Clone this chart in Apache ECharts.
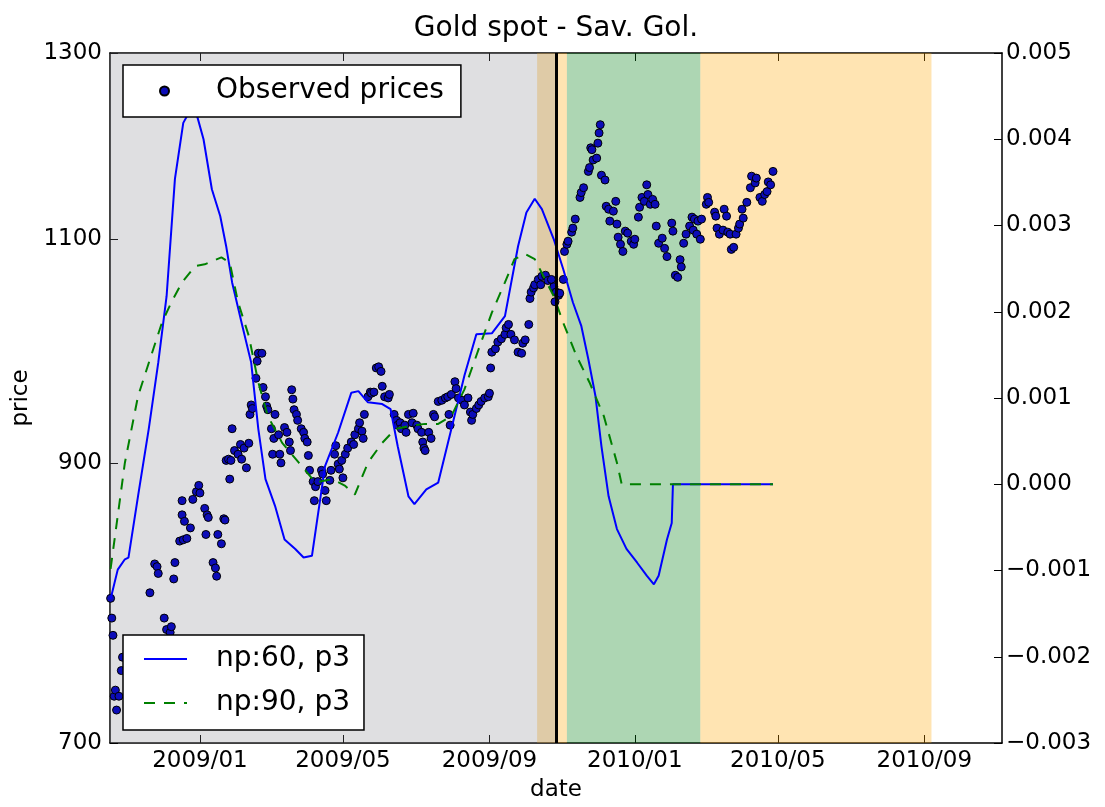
<!DOCTYPE html>
<html>
<head>
<meta charset="utf-8">
<script src="https://cdn.jsdelivr.net/npm/echarts@6/dist/echarts.min.js"></script>
<style>
html,body{margin:0;padding:0;background:#fff;}
#chart{width:1105px;height:807px;}
</style>
</head>
<body>
<div id="chart"></div>
<script>
// Dates are stored as days counted from 2009-01-01 (UTC).
const baseDate = '2009-01-01';
const xRange = [-75.5, 673.2];
const xTickDates = ['2009-01-01', '2009-05-01', '2009-09-01', '2010-01-01', '2010-05-01', '2010-09-01'];
const priceTicks = [700, 900, 1100, 1300];
const priceRange = [700, 1300];
const derivRange = [-0.003, 0.005];
const derivStep = 0.001;

// shaded periods [startDay, endDay]
const spanOrangeShort = [283, 308];
const spanGreen = [308, 420];
const spanOrangeLong = [420, 614];
const spanGray = [-75.5, 299];
const nowDay = 299;

// observed gold prices [day, price]
const observedPrices = [
[-75,797],[-74,783],[-73,771],[-72,730],[-71,734],[-70,721],[-68,730],[-66,747],[-65,756],
[-42,801],[-38,822],[-36,820],[-35,815],[-30,783],[-28,775],[-25,773],[-24,777],
[-22,811],[-21,823],[-17,839],[-15,870],[-15,859],[-14,840],[-13,854],[-11,841],[-8,849],
[-6,871],[-3,877],[-1,882],[0,876],[4,864],[5,844],[6,859],[7,857],
[11,823],[13,819],[14,813],[15,844],[18,837],[20,856],[21,855],
[22,902],[24,903],[25,887],[26,902],[27,928],
[29,910],[32,907],[34,915],[35,903],[37,912],[39,896],[41,916],
[42,940],[43,948],[44,945],
[47,971],[48,986],[49,993],[52,993],
[53,963],[55,955],[56,947],[57,944],
[60,928],[61,907],[62,920],[63,940],[66,923],[67,907],[68,900],
[71,929],[73,925],[75,917],[76,910],[77,961],[78,953],
[79,944],[81,940],[82,935],
[85,928],[87,925],[88,920],[90,917],[91,906],[92,894],
[95,885],[96,870],[97,881],[99,885],[102,894],[103,891],[105,878],[106,870],
[109,886],[110,894],[113,907],[114,914],
[116,899],[117,895],[119,902],[120,888],
[122,907],[124,912],[127,917],[129,915],[130,923],
[133,928],[134,933],[136,926],[137,920],[138,940],
[141,955],[143,959],[144,958],[146,959],
[148,980],[150,981],[152,977],[153,964],
[155,955],[158,954],[159,957],
[163,940],[165,935],[166,931],[168,933],[169,928],
[172,931],[173,925],[175,940],[178,933],[179,941],
[182,931],[183,928],[186,925],[187,917],[188,912],[189,910],
[192,925],[194,920],[196,940],[197,938],
[200,951],[203,952],[206,954],[208,955],[209,940],[210,931],[211,957],[214,968],[215,962],
[217,954],[220,952],[222,948],
[225,954],[227,942],[228,935],[229,940],[232,945],[234,948],[236,951],[239,954],[242,955],[243,958],
[244,980],[245,994],[248,997],[250,1003],[253,1006],[256,1010],[257,1016],[259,1019],
[261,1010],[264,1005],[267,994],[270,993],[271,1002],[273,1005],[276,1019],
[277,1043],[278,1049],[280,1053],[281,1056],[284,1061],[286,1056],[287,1064],
[290,1065],[292,1060],[295,1061],[297,1054],[298,1040],[299,1049],[301,1046],[302,1048],[305,1061],
[306,1088],[308,1095],[309,1098],[312,1107],[313,1111],[315,1120],
[319,1142],[320,1147],[322,1152],[326,1169],[327,1173],[328,1194],[329,1192],[330,1181],[333,1183],
[334,1199],[335,1210],[336,1219],[337,1165],[340,1160],
[341,1133],[343,1130],[344,1118],[347,1128],[349,1138],[350,1115],
[351,1102],[353,1095],[355,1088],[357,1108],[359,1106],[362,1098],[364,1095],[365,1100],
[368,1122],[369,1132],[371,1142],[373,1138],[375,1155],[376,1145],[378,1135],[380,1140],[382,1135],
[383,1113],[385,1096],[388,1101],[390,1091],[392,1083],
[396,1116],[397,1108],[399,1065],[401,1063],[403,1080],[404,1073],
[406,1096],[408,1105],[411,1113],[413,1122],[414,1109],[415,1120],[417,1105],[418,1118],[420,1100],[421,1120],
[425,1135],[426,1142],[427,1137],[432,1127],[433,1123],
[434,1111],[436,1105],[439,1109],[440,1130],[442,1123],[443,1107],
[445,1105],[446,1090],[448,1092],[450,1105],[452,1111],[453,1115],[455,1130],[456,1121],[459,1137],
[462,1152],[463,1164],[466,1157],[467,1162],[470,1142],[472,1138],[474,1145],[476,1148],[477,1158],[479,1155],[481,1169]
];

// Savitzky-Golay derived curves [day, value]
const np60 = [
[-75,-0.00133],[-69,-0.00099],[-63,-0.00087],[-60,-0.00085],[-52,-0.00014],[-43,0.00064],[-35,0.00141],
[-28,0.00218],[-21,0.00354],[-14,0.00419],[-10,0.00429],[-3,0.00430],[3,0.00400],[10,0.00342],
[17,0.00311],[22,0.00276],[27,0.00234],[35,0.00187],[43,0.00141],[49,0.00064],[55,0.00006],
[63,-0.00025],[71,-0.00064],[80,-0.00075],[87,-0.00085],[94,-0.00083],[98,-0.00045],[105,0.00021],
[116,0.00060],[127,0.00106],[133,0.00108],[141,0.00095],[153,0.00093],[160,0.00087],[166,0.00044],
[175,-0.00014],[180,-0.00023],[190,-0.00006],[200,0.00002],[211,0.00064],[222,0.00126],[232,0.00174],
[245,0.00175],[256,0.00195],[267,0.00276],[274,0.00315],[281,0.00331],[287,0.00319],[297,0.00284],
[305,0.00249],[313,0.00211],[320,0.00184],[326,0.00145],[332,0.00102],[337,0.00044],[343,-0.00014],
[350,-0.00052],[358,-0.00075],[367,-0.00091],[375,-0.00106],[381,-0.00116],[385,-0.00106],
[392,-0.00064],[396,-0.00045],[397,0],[481,0]
];
const np90 = [
[-75,-0.00098],[-63,0.00025],[-52,0.00102],[-41,0.00149],[-32,0.00187],[-24,0.00211],[-15,0.00234],
[-4,0.00253],[4,0.00255],[18,0.00263],[25,0.00257],[32,0.00211],[41,0.00172],[49,0.00118],
[57,0.00079],[69,0.00048],[83,0.00025],[97,0.00002],[111,0.00006],[122,-0.00002],[130,-0.00012],
[141,0.00025],[153,0.00048],[164,0.00064],[178,0.00068],[189,0.00070],[200,0.00070],[211,0.00079],
[222,0.00110],[234,0.00157],[245,0.00199],[256,0.00234],[264,0.00261],[273,0.00267],[281,0.00261],
[297,0.00218],[305,0.00187],[316,0.00149],[327,0.00118],[339,0.00079],[350,0.00025],[354,0],[481,0]
];

const DAY_MS = 86400000;
const BASE_MS = Date.parse(baseDate + 'T00:00:00Z');
const toTime = d => BASE_MS + d * DAY_MS;
const xTickValues = xTickDates.map(s => Date.parse(s + 'T00:00:00Z'));
const FONT = 'DejaVu Sans';

function fmtDate(v) {
  const dt = new Date(v);
  const m = dt.getUTCMonth() + 1;
  return dt.getUTCFullYear() + '/' + (m < 10 ? '0' + m : m);
}
function fmtDeriv(v) {
  if (Math.abs(v) < 1e-10) return '0.000';
  const s = Math.abs(v).toFixed(3);
  return v < 0 ? '\u2212' + s : s;
}

const chart = echarts.init(document.getElementById('chart'), null, {renderer: 'canvas'});
const axisLineStyle = {color: '#000', width: 1.5};
const tickStyle = {color: '#000', width: 1};
const labelStyle = {fontSize: 23, color: '#000', fontFamily: FONT};

const option = {
  animation: false,
  backgroundColor: '#fff',
  textStyle: {fontFamily: FONT},
  title: {
    text: 'Gold spot - Sav. Gol.',
    left: 551, top: 10, textAlign: 'center',
    textStyle: {fontSize: 28, fontWeight: 'normal', color: '#000', fontFamily: FONT}
  },
  grid: {left: 110, top: 53, width: 892, height: 690, containLabel: false, outerBoundsMode: 'none'},
  legend: [
    {
      data: [{name: 'Observed prices', icon: 'circle'}],
      left: 123, top: 65, orient: 'vertical',
      itemWidth: 9, itemHeight: 9,
      padding: [12, 17, 12, 36],
      backgroundColor: '#fff', borderColor: '#000', borderWidth: 1.5, borderRadius: 0,
      selectedMode: false,
      textStyle: {fontSize: 28, lineHeight: 28, color: '#000', fontFamily: FONT, padding: [0, 0, 0, 42]}
    },
    {
      data: ['np:60, p3', 'np:90, p3'],
      left: 123, top: 635, orient: 'vertical',
      itemWidth: 43, itemHeight: 14, itemGap: 16,
      padding: [10, 14, 13, 20],
      backgroundColor: '#fff', borderColor: '#000', borderWidth: 1.5, borderRadius: 0,
      selectedMode: false,
      itemStyle: {color: 'rgba(0,0,0,0)', borderWidth: 0, opacity: 0},
      textStyle: {fontSize: 28, lineHeight: 28, color: '#000', fontFamily: FONT, padding: [0, 0, 0, 24]}
    }
  ],
  xAxis: [
    {
      type: 'value', position: 'bottom',
      min: toTime(xRange[0]), max: toTime(xRange[1]),
      axisLine: {show: true, onZero: false, lineStyle: axisLineStyle},
      axisTick: {show: true, inside: true, length: 8, customValues: xTickValues, lineStyle: tickStyle},
      axisLabel: Object.assign({customValues: xTickValues, formatter: fmtDate, margin: 7, hideOverlap: false}, labelStyle),
      splitLine: {show: false},
      name: 'date', nameLocation: 'middle', nameGap: 36,
      nameTextStyle: {fontSize: 23, color: '#000', fontFamily: FONT}
    },
    {
      type: 'value', position: 'top',
      min: toTime(xRange[0]), max: toTime(xRange[1]),
      axisLine: {show: true, onZero: false, lineStyle: axisLineStyle},
      axisTick: {show: true, inside: true, length: 8, customValues: xTickValues, lineStyle: tickStyle},
      axisLabel: {show: false},
      splitLine: {show: false}
    }
  ],
  yAxis: [
    {
      type: 'log', logBase: 10, position: 'left',
      min: priceRange[0], max: priceRange[1],
      axisLine: {show: true, onZero: false, lineStyle: axisLineStyle},
      axisTick: {show: true, inside: true, length: 8, customValues: priceTicks, lineStyle: tickStyle},
      axisLabel: Object.assign({customValues: priceTicks, margin: 8, formatter: v => String(Math.round(v))}, labelStyle),
      splitLine: {show: false},
      name: 'price', nameLocation: 'middle', nameGap: 72, nameRotate: 90,
      nameTextStyle: {fontSize: 23, color: '#000', fontFamily: FONT}
    },
    {
      type: 'value', position: 'right',
      min: derivRange[0], max: derivRange[1], interval: derivStep,
      axisLine: {show: true, onZero: false, lineStyle: axisLineStyle},
      axisTick: {show: true, inside: true, length: 8, lineStyle: tickStyle},
      axisLabel: Object.assign({margin: 4, formatter: fmtDeriv}, labelStyle),
      splitLine: {show: false}
    }
  ],
  series: [
    {
      name: 'Observed prices', type: 'scatter',
      xAxisIndex: 0, yAxisIndex: 0, z: 2,
      data: observedPrices.map(p => [toTime(p[0]), p[1]]),
      symbol: 'circle', symbolSize: 8,
      itemStyle: {color: '#0c0cb8', borderColor: '#000', borderWidth: 1, opacity: 1},
      markArea: {
        silent: true,
        data: [
          [{xAxis: toTime(spanOrangeShort[0]), itemStyle: {color: 'rgba(255,165,0,0.3)'}}, {xAxis: toTime(spanOrangeShort[1])}],
          [{xAxis: toTime(spanGreen[0]), itemStyle: {color: 'rgba(0,128,20,0.32)'}}, {xAxis: toTime(spanGreen[1])}],
          [{xAxis: toTime(spanOrangeLong[0]), itemStyle: {color: 'rgba(255,165,0,0.3)'}}, {xAxis: toTime(spanOrangeLong[1])}],
          [{xAxis: toTime(spanGray[0]), itemStyle: {color: 'rgba(128,128,135,0.25)'}}, {xAxis: toTime(spanGray[1])}]
        ]
      },
      markLine: {
        silent: true, symbol: 'none',
        label: {show: false},
        lineStyle: {color: '#000', width: 3, type: 'solid'},
        data: [{xAxis: toTime(nowDay)}]
      }
    },
    {
      name: 'np:60, p3', type: 'line',
      xAxisIndex: 0, yAxisIndex: 1, z: 3,
      data: np60.map(p => [toTime(p[0]), p[1]]),
      symbol: 'none', showSymbol: false,
      lineStyle: {color: '#0000ff', width: 2},
      itemStyle: {color: '#0000ff'}
    },
    {
      name: 'np:90, p3', type: 'line',
      xAxisIndex: 0, yAxisIndex: 1, z: 3,
      data: np90.map(p => [toTime(p[0]), p[1]]),
      symbol: 'none', showSymbol: false,
      lineStyle: {color: '#008000', width: 2, type: [11, 9]},
      itemStyle: {color: '#008000'}
    }
  ]
};
chart.setOption(option);
</script>
</body>
</html>
